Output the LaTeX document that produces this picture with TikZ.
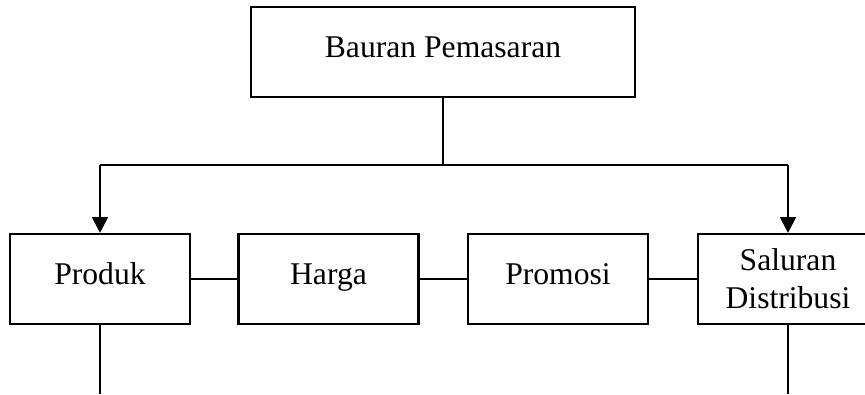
\documentclass[tikz,border=0pt]{standalone}
\usepackage{fontspec}
\setmainfont{Liberation Serif}
\usetikzlibrary{arrows.meta}

\begin{document}
\begin{tikzpicture}[
  kotak/.style={draw, line width=1.2pt, minimum width=3.6cm, minimum height=1.8cm, align=center, font=\fontsize{18}{21.5}\selectfont},
  satubaris/.style={kotak, text height=0.68em, text depth=0.1em},
  garis/.style={line width=1.2pt},
  panah/.style={line width=1.2pt, -{Triangle[width=9pt,length=9pt]}}
]
\useasboundingbox (0,0) rectangle (17.3,7.88);
\clip (0,0) rectangle (17.3,7.88);

% Bauran Pemasaran
\node[satubaris, minimum width=7.68cm] (bauran) at (8.86,6.84) {Bauran Pemasaran};

% Unsur bauran
\node[satubaris] (produk) at (2.0,2.3) {Produk};
\node[satubaris] (harga) at (6.57,2.3) {Harga};
\node[satubaris] (promosi) at (11.16,2.3) {Promosi};
\node[kotak] (saluran) at (15.76,2.3) {Saluran\\Distribusi};

% Cabang atas
\coordinate (kiri) at (2.0,4.58);
\coordinate (kanan) at (15.76,4.58);
\draw[garis] (kiri) -- (kanan);
\draw[garis] (bauran.south) -- (bauran.south |- kiri);
\draw[panah] (kiri) -- (produk.north);
\draw[panah] (kanan) -- (saluran.north);

% Antar kotak
\draw[garis] (produk) -- (harga);
\draw[garis] (harga) -- (promosi);
\draw[garis] (promosi) -- (saluran);

% Garis ke bawah
\coordinate (produkbawah) at (2.0,0);
\coordinate (saluranbawah) at (15.76,0);
\draw[garis] (produk.south) -- (produkbawah);
\draw[garis] (saluran.south) -- (saluranbawah);
\end{tikzpicture}
\end{document}
